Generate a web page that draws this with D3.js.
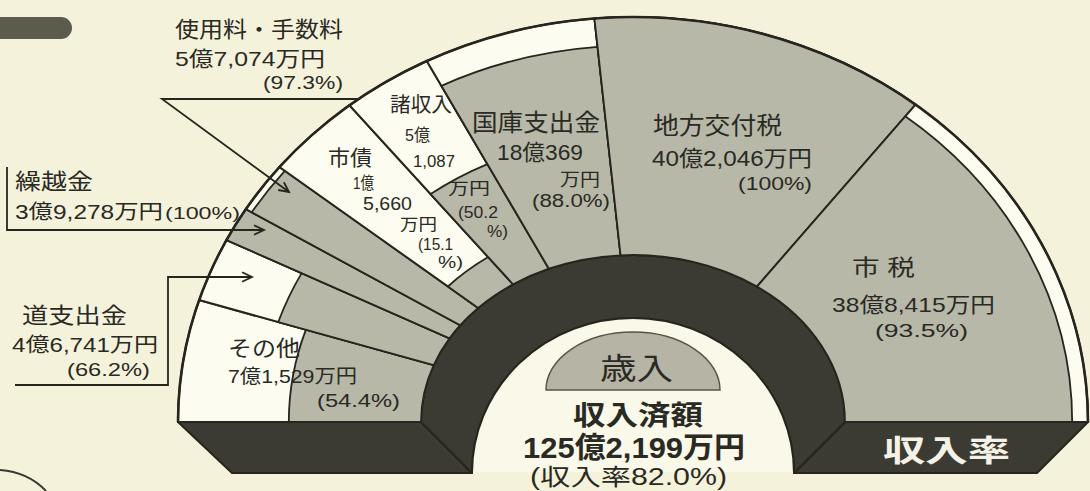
<!DOCTYPE html>
<html>
<head>
<meta charset="utf-8">
<script src="https://cdn.jsdelivr.net/npm/d3@7"></script>
<style>
html,body{margin:0;padding:0;background:#f4f1dc;}
svg{display:block;}
</style>
</head>
<body>
<svg id="chart" width="1090" height="491"></svg>
<script>
// ---- data (amounts in 万円, rates in %) ----
const categories = ["その他","道支出金","繰越金","使用料・手数料","市債","諸収入","国庫支出金","地方交付税","市税"];
const amounts    = [71529, 46741, 39278, 57074, 15660, 51087, 180369, 402046, 388415];
const rates      = [54.4, 66.2, 100, 97.3, 15.1, 50.2, 88.0, 100, 93.5];
const totalAmountLabel = "125億2,199万円";
const totalRate = 82.0;

// ---- label text lines for each category ----
const labelLines = [
  ["その他","7億1,529万円","(54.4%)"],
  ["道支出金","4億6,741万円","(66.2%)"],
  ["繰越金","3億9,278万円","(100%)"],
  ["使用料・手数料","5億7,074万円","(97.3%)"],
  ["市債","1億","5,660","万円","(15.1","%)"],
  ["諸収入","5億","1,087","万円","(50.2","%)"],
  ["国庫支出金","18億369","万円","(88.0%)"],
  ["地方交付税","40億2,046万円","(100%)"],
  ["市 税","38億8,415万円","(93.5%)"]
];
// layout for label lines: [x, baseline, size, width]
const labelLayout = [
  [[228,356,22,72],[228,383,19,129],[317,407,18,83]],
  [[22,323,22,105],[12,352,20,146],[67,376,18,83]],
  [[15,189,22,78],[15,219,20,148],[165,219,17,75]],
  [[175,37,22,168],[175,66,21,150],[263,89,18,80]],
  [[328,165,21,44],[353,189,17,21],[363,210,18,49],[400,230,16,37],[418,250,16,35],[438,268,16,25]],
  [[390,112,20,62],[405,141,17,25],[413,167,17,42],[448,194,16,42],[458,218,16,40],[487,237,16,21]],
  [[472,131,24,128],[497,160,22,86],[560,186,18,40],[532,207,18,78]],
  [[653,134,24,129],[652,166,22,160],[738,190,18,74]],
  [[852,275,22,63],[832,312,21,163],[875,337,18,93]]
];

const C = {bg:"#f5f2dc", gray:"#b7b8a8", white:"#fdfcf1", dark:"#3b3b33", line:"#26261f", text:"#2a2a24", inner:"#faf8e8", dome:"#b6b4a4"};
const FONT = "'Liberation Sans','Noto Sans CJK JP',sans-serif";

const svg = d3.select("#chart");
svg.append("rect").attr("width",1090).attr("height",491).attr("fill",C.bg);

// top-left decorative bar & stray arc (newspaper context)
svg.append("path").attr("d","M0,17 H61 A11,11 0 0 1 61,39 H0 Z").attr("fill","#5c5c4e");
svg.append("path").attr("d","M0,470 Q28,472 46,491").attr("fill","none").attr("stroke","#3a3a33").attr("stroke-width",2);

// ---- geometry ----
const cx = 633, cy = 422;          // ellipse centre of the fan
const ox = 639, oy = 422;          // origin of the radial dividing rays
const outer = {rx:455, ry:405}, inner = {rx:212, ry:167};
const cx2 = 633, cy2 = 473, low = {rx:161, ry:155};

const budgets = amounts.map((a,i)=> a/(rates[i]/100));
const cum = [0]; budgets.forEach((b,i)=>cum.push(cum[i]+b));
const angle = d3.scaleLinear().domain([0, cum[cum.length-1]]).range([Math.PI, 0]);
const radial = d3.scaleLinear().domain([0,100]).range([0,1]);
const rxAt = t => inner.rx + t*(outer.rx-inner.rx);
const ryAt = t => inner.ry + t*(outer.ry-inner.ry);
// point where the ray at angle a (from the ray origin) meets the ellipse of level t
function P(t,a){
  const rx=rxAt(t), ry=ryAt(t);
  const dx=Math.cos(a), dy=-Math.sin(a);
  const u=(ox-cx)/rx, v=(oy-cy)/ry, A=dx/rx, B=dy/ry;
  const qa=A*A+B*B, qb=u*A+v*B, qc=u*u+v*v-1;
  const s=(-qb+Math.sqrt(qb*qb-qa*qc))/qa;
  return [ox+s*dx, oy+s*dy];
}
function band(t0,t1,a0,a1){
  const p0=P(t0,a0), p1=P(t0,a1), p2=P(t1,a1), p3=P(t1,a0);
  return `M${p0}A${rxAt(t0)},${ryAt(t0)} 0 0 1 ${p1}L${p2}A${rxAt(t1)},${ryAt(t1)} 0 0 0 ${p3}Z`;
}

// ---- base & inner wall ----
const base = svg.append("g").attr("fill",C.dark).attr("stroke",C.line).attr("stroke-width",2).attr("stroke-linejoin","round");
base.append("path").attr("d",`M${cx-outer.rx},${cy}H${cx-inner.rx}L${cx2-low.rx},${cy2}H${cx2-outer.rx+54}Z`);
base.append("path").attr("d",`M${cx+inner.rx},${cy}H${cx+outer.rx}L${cx2+outer.rx-51},${cy2}H${cx2+low.rx}Z`);
base.append("path").attr("d",`M${cx-inner.rx},${cy}A${inner.rx},${inner.ry} 0 0 1 ${cx+inner.rx},${cy}L${cx2+low.rx},${cy2}A${low.rx},${low.ry} 0 0 0 ${cx2-low.rx},${cy2}Z`);
// inner light area
svg.append("path").attr("d",`M${cx2-low.rx},${cy2}A${low.rx},${low.ry} 0 0 1 ${cx2+low.rx},${cy2}Z`).attr("fill",C.inner).attr("stroke",C.line).attr("stroke-width",2);
svg.append("rect").attr("x",cx2-low.rx+1).attr("y",cy2-1).attr("width",2*low.rx-2).attr("height",20).attr("fill",C.bg);
// dome
svg.append("path").attr("d",`M${cx2-87},390A87,58 0 0 1 ${cx2+87},390Z`).attr("fill",C.dome).attr("stroke","#55554a").attr("stroke-width",1.5);

// ---- segments ----
const seg = svg.append("g");
categories.forEach((c,i)=>{
  const a0 = angle(cum[i]), a1 = angle(cum[i+1]);
  seg.append("path").attr("d",band(0,1,a0,a1)).attr("fill",C.white).attr("stroke",C.line).attr("stroke-width",2);
  seg.append("path").attr("d",band(0,radial(rates[i]),a0,a1)).attr("fill",C.gray).attr("stroke",C.line).attr("stroke-width",1.8);
});
// outer rim
svg.append("path").attr("d",`M${cx-outer.rx},${cy}A${outer.rx},${outer.ry} 0 0 1 ${cx+outer.rx},${cy}`).attr("fill","none").attr("stroke",C.line).attr("stroke-width",2.6);

// ---- text helper ----
function txt(x,y,s,size,w,o={}){
  const t = svg.append("text").attr("x",x).attr("y",y).text(s)
    .attr("font-family",FONT).attr("font-size",size)
    .attr("fill",o.fill||C.text).attr("font-weight",o.weight||400);
  if(w){ t.attr("textLength",w).attr("lengthAdjust","spacingAndGlyphs"); }
  return t;
}
labelLines.forEach((lines,i)=>{
  lines.forEach((s,j)=>{ const L = labelLayout[i][j]; txt(L[0],L[1],s,L[2],L[3]); });
});

// ---- leader lines ----
const lead = svg.append("g").attr("fill","none").attr("stroke",C.line).attr("stroke-width",1.8).attr("stroke-linejoin","miter");
function arrowHead(x,y,ang){
  const s=11, w=0.45;
  const p1=[x - s*Math.cos(ang-w), y - s*Math.sin(ang-w)], p2=[x - s*Math.cos(ang+w), y - s*Math.sin(ang+w)];
  lead.append("path").attr("d",`M${p1}L${x},${y}L${p2}`);
}
// 使用料・手数料
lead.append("path").attr("d","M360,99H162L289,192");
arrowHead(289,192,Math.atan2(93,127));
// 繰越金
lead.append("path").attr("d","M7,167V230H264");
arrowHead(264,230,0);
// 道支出金
lead.append("path").attr("d","M15,385H168V277H252");
arrowHead(252,277,0);

// ---- centre texts ----
txt(600,379,"歳入",30,73);
txt(573,425,"収入済額",27,130,{weight:700});
txt(523,458,totalAmountLabel,29,222,{weight:700});
txt(530,485,`(収入率${totalRate.toFixed(1)}%)`,23,197);
txt(883,461,"収入率",30,127,{fill:"#f4f2e6",weight:700});
</script>
</body>
</html>
